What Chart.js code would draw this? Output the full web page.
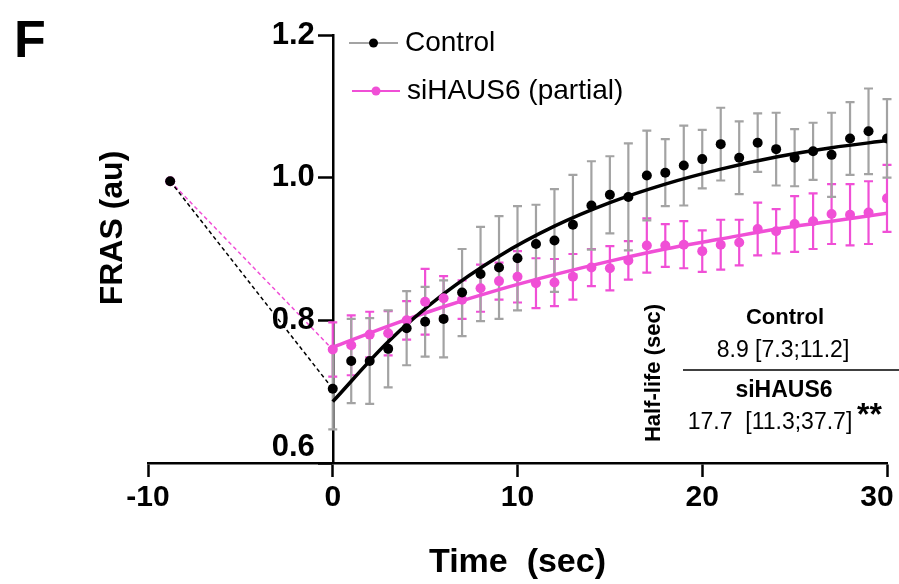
<!DOCTYPE html>
<html><head><meta charset="utf-8">
<script src="https://cdn.jsdelivr.net/npm/chart.js@4/dist/chart.umd.min.js"></script>
<style>html,body{margin:0;padding:0;background:#fff}#wrap{width:899px;height:584px;position:relative}</style>
</head><body><div id="wrap"><canvas id="c" width="899" height="584"></canvas></div>
<script>
// ---- data ----
const timePoints = [-8.8, 0,1,2,3,4,5,6,7,8,9,10,11,12,13,14,15,16,17,18,19,20,21,22,23,24,25,26,27,28,29,30];
const controlMean = [0.995, 0.704,0.743,0.743,0.760,0.789,0.798,0.802,0.839,0.865,0.874,0.887,0.907,0.912,0.934,0.961,0.976,0.973,1.003,1.007,1.017,1.026,1.047,1.028,1.049,1.040,1.028,1.037,1.032,1.055,1.065,1.055];
const controlErr = [0, 0.057,0.059,0.060,0.054,0.052,0.049,0.054,0.061,0.066,0.072,0.073,0.055,0.072,0.070,0.062,0.054,0.075,0.063,0.047,0.056,0.041,0.051,0.051,0.041,0.051,0.040,0.040,0.059,0.051,0.060,0.055];
const siMean = [0.995, 0.759,0.765,0.780,0.782,0.800,0.826,0.831,0.829,0.845,0.855,0.861,0.852,0.853,0.861,0.874,0.873,0.884,0.905,0.905,0.906,0.897,0.906,0.909,0.928,0.925,0.935,0.939,0.949,0.948,0.951,0.971];
const siErr = [0, 0.038,0.042,0.032,0.031,0.027,0.046,0.031,0.027,0.033,0.026,0.036,0.035,0.033,0.032,0.026,0.031,0.027,0.038,0.030,0.033,0.029,0.035,0.032,0.037,0.031,0.039,0.039,0.042,0.043,0.044,0.047];
const fitTime = [0,3,6,9,12,15,18,21,24,27,30];
const controlFit = [0.686,0.770,0.837,0.890,0.932,0.965,0.991,1.012,1.029,1.042,1.052];
const siFit = [0.762,0.792,0.819,0.843,0.864,0.883,0.900,0.914,0.928,0.939,0.950];
const xTicks = [-10,0,10,20,30];
const yTicks = [0.6,0.8,1.0,1.2];
const seriesNames = ['Control','siHAUS6 (partial)'];
const halfLifeControl = '8.9 [7.3;11.2]';
const halfLifeSi = '17.7  [11.3;37.7]';

const BLACK = '#000000', GRAY = '#a3a3a3', PINK = '#f04fd6';
const FONT = '"Liberation Sans", Arial, sans-serif';

const pts = (xs, ys) => xs.map((x, i) => ({x, y: ys[i]}));

const errorBars = {
  id: 'errorBars',
  beforeDatasetsDraw(chart) {
    const {ctx, scales: {x, y}} = chart;
    const draw = (means, errs, color) => {
      ctx.save();
      ctx.strokeStyle = color; ctx.lineWidth = 2.2;
      timePoints.forEach((t, i) => {
        if (!errs[i]) return;
        const px = x.getPixelForValue(t);
        const top = y.getPixelForValue(means[i] + errs[i]);
        const bot = y.getPixelForValue(means[i] - errs[i]);
        ctx.beginPath();
        ctx.moveTo(px, top); ctx.lineTo(px, bot);
        ctx.moveTo(px - 4.5, top); ctx.lineTo(px + 4.5, top);
        ctx.moveTo(px - 4.5, bot); ctx.lineTo(px + 4.5, bot);
        ctx.stroke();
      });
      ctx.restore();
    };
    draw(siMean, siErr, PINK);
    draw(controlMean, controlErr, GRAY);
  }
};

const decorations = {
  id: 'decorations',
  afterDraw(chart) {
    const {ctx, scales: {x, y}} = chart;
    ctx.save();
    ctx.fillStyle = '#000';
    // panel letter
    ctx.font = 'bold 52px ' + FONT; ctx.textAlign = 'left'; ctx.textBaseline = 'alphabetic';
    ctx.fillText('F', 14, 57);
    // y axis title
    ctx.save();
    ctx.translate(113, 228); ctx.rotate(-Math.PI / 2);
    ctx.font = 'bold 32px ' + FONT; ctx.textAlign = 'center'; ctx.textBaseline = 'middle';
    ctx.fillText('FRAS (au)', 0, 0);
    ctx.restore();
    // y tick labels, left of the axis (lowest one lifted above the x axis)
    const yAxisPx = x.getPixelForValue(0);
    ctx.font = 'bold 31px ' + FONT; ctx.textAlign = 'right'; ctx.textBaseline = 'middle';
    y.ticks.forEach((t, i) => {
      const py = y.getPixelForValue(t.value) - (i === 0 ? 16 : 0);
      ctx.fillText(Number(t.value).toFixed(1), yAxisPx - 18, py);
    });
    // x tick labels (last one kept inside the frame)
    ctx.font = 'bold 30px ' + FONT; ctx.textAlign = 'center'; ctx.textBaseline = 'middle';
    x.ticks.forEach((t, i) => {
      const px = x.getPixelForValue(t.value) - (i === x.ticks.length - 1 ? 10 : 0);
      ctx.fillText(String(t.value), px, x.top + 35);
    });
    // legend
    const legendRows = [
      {name: seriesNames[0], line: GRAY, dot: BLACK, x0: 349, x1: 398, yy: 43},
      {name: seriesNames[1], line: PINK, dot: PINK, x0: 352, x1: 400, yy: 91}
    ];
    legendRows.forEach(r => {
      ctx.strokeStyle = r.line; ctx.lineWidth = 2;
      ctx.beginPath(); ctx.moveTo(r.x0, r.yy); ctx.lineTo(r.x1, r.yy); ctx.stroke();
      ctx.fillStyle = r.dot;
      ctx.beginPath(); ctx.arc((r.x0 + r.x1) / 2, r.yy, 4.5, 0, Math.PI * 2); ctx.fill();
      ctx.fillStyle = '#000';
      ctx.font = '28px ' + FONT; ctx.textAlign = 'left'; ctx.textBaseline = 'middle';
      ctx.fillText(r.name, r.x1 + 7, r.yy);
    });
    // half-life table
    ctx.save();
    ctx.translate(654, 373); ctx.rotate(-Math.PI / 2);
    ctx.font = 'bold 22px ' + FONT; ctx.textAlign = 'center'; ctx.textBaseline = 'middle';
    ctx.fillText('Half-life (sec)', 0, 0);
    ctx.restore();
    ctx.textAlign = 'center'; ctx.textBaseline = 'middle';
    ctx.font = 'bold 22px ' + FONT; ctx.fillText('Control', 785, 318);
    ctx.font = '23px ' + FONT; ctx.fillText(halfLifeControl, 783, 351);
    ctx.strokeStyle = '#000'; ctx.lineWidth = 1.5;
    ctx.beginPath(); ctx.moveTo(683, 370); ctx.lineTo(899, 370); ctx.stroke();
    ctx.font = 'bold 23px ' + FONT; ctx.fillText('siHAUS6', 784, 391);
    ctx.font = '23px ' + FONT; ctx.fillText(halfLifeSi, 770, 423);
    ctx.font = 'bold 32px ' + FONT; ctx.textAlign = 'left'; ctx.textBaseline = 'alphabetic';
    ctx.fillText('**', 857, 425);
    ctx.restore();
  }
};

const firstSegDash = (color) => ({
  borderColor: c => c.p0DataIndex === 0 ? color : 'rgba(0,0,0,0)',
  borderDash: c => c.p0DataIndex === 0 ? [4, 3] : []
});

new Chart(document.getElementById('c'), {
  type: 'scatter',
  data: {
    datasets: [
      {label: seriesNames[0], data: pts(timePoints, controlMean), showLine: true, borderWidth: 1.5,
       borderColor: BLACK, segment: firstSegDash(BLACK),
       pointRadius: 5, pointBackgroundColor: BLACK, pointBorderWidth: 0, order: 0},
      {label: seriesNames[1], data: pts(timePoints, siMean), showLine: true, borderWidth: 1.5,
       borderColor: PINK, segment: firstSegDash(PINK),
       pointRadius: 5, pointBackgroundColor: PINK, pointBorderWidth: 0, order: 1},
      {label: 'Control fit', data: pts(fitTime, controlFit), showLine: true, borderColor: BLACK,
       borderWidth: 3.5, pointRadius: 0, cubicInterpolationMode: 'monotone', order: 2},
      {label: 'siHAUS6 fit', data: pts(fitTime, siFit), showLine: true, borderColor: PINK,
       borderWidth: 3.5, pointRadius: 0, cubicInterpolationMode: 'monotone', order: 3}
    ]
  },
  options: {
    responsive: false, animation: false, devicePixelRatio: 1,
    layout: {padding: {left: 148, right: 12, top: 35, bottom: 0}},
    plugins: {legend: {display: false}, tooltip: {enabled: false}},
    scales: {
      x: {
        type: 'linear', min: -10, max: 30, position: 'bottom',
        afterBuildTicks: s => { s.ticks = xTicks.map(v => ({value: v})); },
        afterFit: s => { s.height = 121; s.paddingLeft = 0; s.paddingRight = 0; },
        ticks: {display: false},
        grid: {drawOnChartArea: false, drawTicks: true, tickLength: 14, tickWidth: 2.5, tickColor: '#000'},
        border: {display: true, color: '#000', width: 2.5},
        title: {display: true, text: 'Time  (sec)', color: '#000', font: {family: FONT, weight: 'bold', size: 34}, padding: {top: 0, bottom: 1}}
      },
      y: {
        type: 'linear', min: 0.6, max: 1.2, position: {x: 0},
        afterBuildTicks: s => { s.ticks = yTicks.map(v => ({value: v})); },
        ticks: {display: false},
        grid: {drawOnChartArea: false, drawTicks: true, tickLength: 14, tickWidth: 2.5, tickColor: '#000'},
        border: {display: true, color: '#000', width: 2.5}
      }
    }
  },
  plugins: [errorBars, decorations]
});
</script></body></html>
